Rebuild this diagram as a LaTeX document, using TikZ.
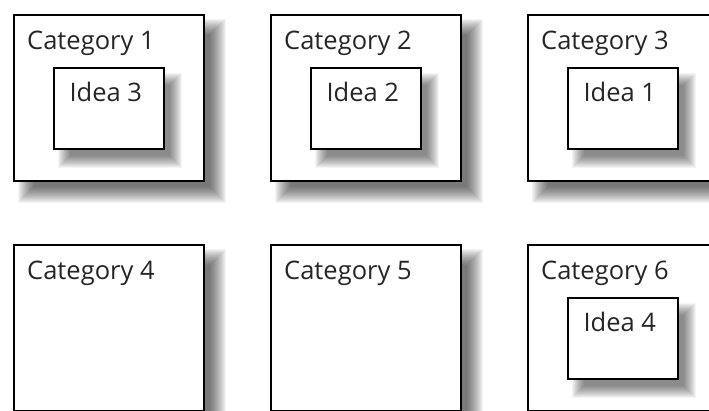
\documentclass[tikz,border=0pt]{standalone}
\usepackage{fontspec}
\setmainfont{Open Sans}
\usetikzlibrary{calc}

\pgfdeclarelayer{catshadow}
\pgfdeclarelayer{catlayer}
\pgfdeclarelayer{ideashadow}
\pgfsetlayers{catshadow,catlayer,ideashadow,main}

\tikzset{
  catbox/.style={draw=black, line width=1.8pt, fill=white, inner sep=0pt,
    minimum width=190pt, minimum height=166pt, anchor=north west},
  ideabox/.style={draw=black, line width=1.5pt, fill=white, inner sep=0pt,
    minimum width=110pt, minimum height=81pt, anchor=north west},
  labeltext/.style={text=black!85, font=\fontsize{25.5}{30}\selectfont, inner sep=0pt},
  shadowlayer/.style={fill=black, fill opacity=0.045}
}

% soft shadow: stacked rectangles around a shifted copy of the node
% #1 node, #2 x shift, #3 y shift, #4 blur radius
\newcommand{\softshadow}[4]{%
  \foreach \k in {-#4,...,#4} {
    \fill[shadowlayer] ($(#1.north west)+(#2-\k,#3-\k)$) rectangle ($(#1.south east)+(#2+\k,#3+\k)$);
  }%
}

\begin{document}
\begin{tikzpicture}[x=1pt, y=-1pt]
% Page frame, boxes run off the right and bottom edges
\useasboundingbox (0,0) rectangle (709,410);
\clip (0,0) rectangle (709,410);

% Grid of the category boxes
\pgfmathsetmacro{\colstep}{257}
\pgfmathsetmacro{\rowstep}{230}

% Category boxes with their titles
\begin{pgfonlayer}{catlayer}
\foreach \n/\col/\row in {1/0/0, 2/1/0, 3/2/0, 4/0/1, 5/1/1, 6/2/1} {
  \node[catbox] (cat\n) at (13+\col*\colstep, 14+\row*\rowstep) {};
  \node[labeltext, anchor=base west, xshift=14pt, yshift=-35pt] (cattitle\n) at (cat\n.north west) {Category \n};
}
\end{pgfonlayer}
\begin{pgfonlayer}{catshadow}
\foreach \n in {1,...,6} {\softshadow{cat\n}{13}{13}{8}}
\end{pgfonlayer}

% Idea boxes sitting inside their category
\foreach \i/\c in {3/1, 2/2, 1/3, 4/6} {
  \node[ideabox, xshift=40pt, yshift=-53pt] (idea\i) at (cat\c.north west) {};
  \node[labeltext, anchor=base, xshift=-3pt, yshift=-34pt] (ideatitle\i) at (idea\i.north) {Idea \i};
}
\begin{pgfonlayer}{ideashadow}
\foreach \i in {1,...,4} {\softshadow{idea\i}{11}{12}{6}}
\end{pgfonlayer}
\end{tikzpicture}
\end{document}
